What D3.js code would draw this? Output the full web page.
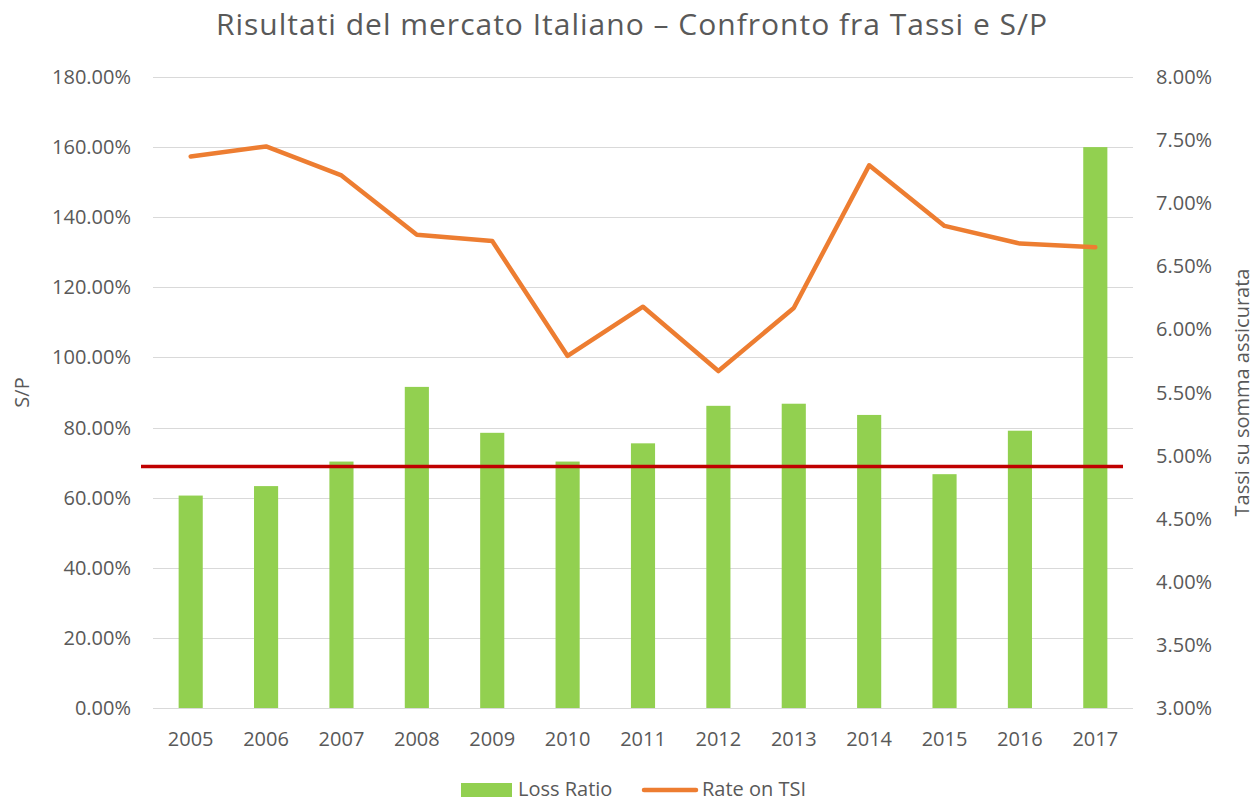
<!DOCTYPE html>
<html>
<head>
<meta charset="utf-8">
<script src="https://cdn.jsdelivr.net/npm/d3@7"></script>
<style>
  html, body { margin: 0; padding: 0; background: #fff; }
  svg text { font-family: "Open Sans", sans-serif; fill: #595959; }
</style>
</head>
<body>
<div id="app"></div>
<script>
const years = ["2005", "2006", "2007", "2008", "2009", "2010", "2011", "2012", "2013", "2014", "2015", "2016", "2017"];
const lossRatio = [0.606, 0.633, 0.703, 0.916, 0.785, 0.703, 0.755, 0.862, 0.868, 0.836, 0.667, 0.791, 1.60];
const rateOnTSI = [0.0737, 0.0745, 0.0722, 0.0675, 0.0670, 0.0579, 0.0618, 0.0567, 0.0617, 0.0730, 0.0682, 0.0668, 0.0665];
const leftTicks = [0, 0.2, 0.4, 0.6, 0.8, 1.0, 1.2, 1.4, 1.6, 1.8];
const rightTicks = [0.03, 0.035, 0.04, 0.045, 0.05, 0.055, 0.06, 0.065, 0.07, 0.075, 0.08];
const thresholdLR = 0.689;

const width = 1254;
const height = 801;
const margin = { top: 77, right: 121, bottom: 93, left: 153 };

const svg = d3.select("#app").append("svg")
  .attr("width", width)
  .attr("height", height);

const x = d3.scaleBand()
  .domain(years)
  .range([margin.left, width - margin.right])
  .paddingInner(0.68)
  .paddingOuter(0.34);

const yLeft = d3.scaleLinear()
  .domain([0, 1.8])
  .range([height - margin.bottom, margin.top]);

const yRight = d3.scaleLinear()
  .domain([0.03, 0.08])
  .range([height - margin.bottom, margin.top]);

const pct = d3.format(".2%");

// gridlines
svg.append("g")
  .selectAll("line")
  .data(leftTicks)
  .join("line")
  .attr("x1", margin.left)
  .attr("x2", width - margin.right)
  .attr("y1", d => Math.round(yLeft(d)) + 0.5)
  .attr("y2", d => Math.round(yLeft(d)) + 0.5)
  .attr("stroke", "#d9d9d9")
  .attr("stroke-width", 1.2);

// left axis labels
svg.append("g")
  .selectAll("text")
  .data(leftTicks)
  .join("text")
  .attr("x", 131)
  .attr("y", d => yLeft(d))
  .attr("dy", "0.35em")
  .attr("text-anchor", "end")
  .style("font-size", "20px")
  .text(d => pct(d));

// right axis labels
svg.append("g")
  .selectAll("text")
  .data(rightTicks)
  .join("text")
  .attr("x", 1156)
  .attr("y", d => yRight(d))
  .attr("dy", "0.35em")
  .attr("text-anchor", "start")
  .style("font-size", "20px")
  .text(d => pct(d));

// bars
svg.append("g")
  .selectAll("rect")
  .data(lossRatio)
  .join("rect")
  .attr("x", (d, i) => x(years[i]))
  .attr("y", d => yLeft(d))
  .attr("width", x.bandwidth())
  .attr("height", d => yLeft(0) - yLeft(d))
  .attr("fill", "#92d050");

// threshold line
svg.append("line")
  .attr("x1", margin.left - 12)
  .attr("x2", width - margin.right - 10)
  .attr("y1", yLeft(thresholdLR))
  .attr("y2", yLeft(thresholdLR))
  .attr("stroke", "#c00000")
  .attr("stroke-width", 3.5);

// rate line
const line = d3.line()
  .x((d, i) => x(years[i]) + x.bandwidth() / 2)
  .y(d => yRight(d));

svg.append("path")
  .datum(rateOnTSI)
  .attr("d", line)
  .attr("fill", "none")
  .attr("stroke", "#ed7d31")
  .attr("stroke-width", 4.5)
  .attr("stroke-linecap", "round")
  .attr("stroke-linejoin", "round");

// x axis labels
svg.append("g")
  .selectAll("text")
  .data(years)
  .join("text")
  .attr("x", d => x(d) + x.bandwidth() / 2)
  .attr("y", 746)
  .attr("text-anchor", "middle")
  .style("font-size", "20px")
  .text(d => d);

// title
svg.append("text")
  .attr("x", 632)
  .attr("y", 35)
  .attr("text-anchor", "middle")
  .style("font-size", "30px")
  .style("letter-spacing", "1px")
  .text("Risultati del mercato Italiano – Confronto fra Tassi e S/P");

// axis titles
svg.append("text")
  .attr("transform", `translate(29, ${(yLeft(0) + yLeft(1.8)) / 2}) rotate(-90)`)
  .attr("text-anchor", "middle")
  .style("font-size", "20px")
  .text("S/P");

svg.append("text")
  .attr("transform", `translate(1249, ${(yRight(0.03) + yRight(0.08)) / 2}) rotate(-90)`)
  .attr("text-anchor", "middle")
  .style("font-size", "20px")
  .text("Tassi su somma assicurata");

// legend
const legend = svg.append("g").attr("transform", "translate(461, 789)");
legend.append("rect")
  .attr("x", 0).attr("y", -6)
  .attr("width", 51).attr("height", 14)
  .attr("fill", "#92d050");
legend.append("text")
  .attr("x", 57).attr("y", 0).attr("dy", "0.35em")
  .style("font-size", "20px")
  .text("Loss Ratio");
legend.append("line")
  .attr("x1", 183).attr("x2", 235)
  .attr("y1", 1).attr("y2", 1)
  .attr("stroke", "#ed7d31")
  .attr("stroke-width", 4.5)
  .attr("stroke-linecap", "round");
legend.append("text")
  .attr("x", 241).attr("y", 0).attr("dy", "0.35em")
  .style("font-size", "20px")
  .text("Rate on TSI");
</script>
</body>
</html>
